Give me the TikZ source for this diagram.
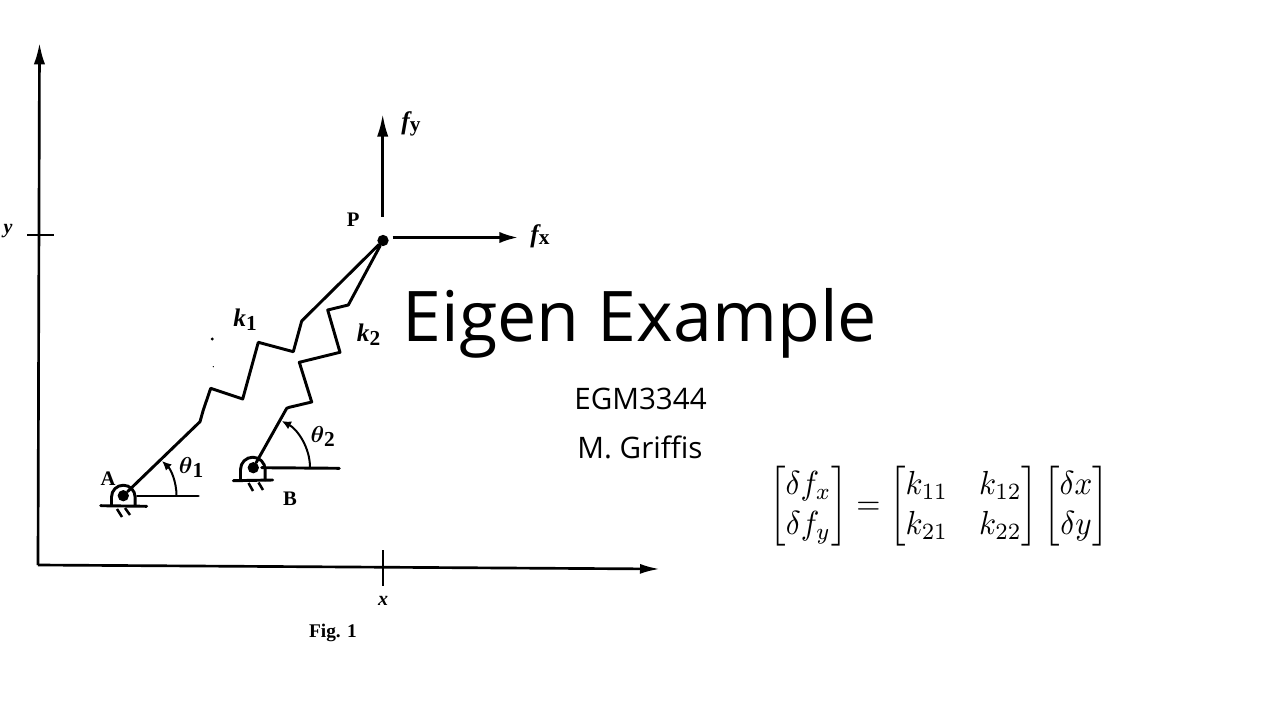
\documentclass[tikz,border=0pt]{standalone}
\usepackage{amsmath}
\usepackage{fontspec}
\setmainfont{Open Sans}
\newfontfamily\figfont{Liberation Serif}
\usetikzlibrary{arrows.meta}
\newcommand{\subfig}[2]{\raisebox{#1}{\upshape\fontsize{16}{16}\selectfont #2}}
\tikzset{
  x=0.75pt,y=-0.75pt,
  ink/.style={draw=black,line width=2.2pt,line join=round,line cap=round},
  thin ink/.style={draw=black,line width=1.5pt},
  hatch ink/.style={draw=black,line width=1.9pt},
  axis line/.style={draw=black,line width=2pt,line join=round},
  bigtip/.style={-{Latex[length=16pt,width=8.5pt]}},
  sidetip/.style={-{Latex[length=17pt,width=8.5pt]}},
  shorttip/.style={-{Latex[length=14pt,width=8.5pt]}},
  arc tip/.style={{Latex[length=7pt,width=6.5pt]}-},
  figlabel/.style={inner sep=0pt,font=\figfont\bfseries\fontsize{15.5}{16}\selectfont},
  mathlabel/.style={inner sep=0pt,font=\figfont\bfseries\itshape\fontsize{19}{19}\selectfont},
  pivot/.style={circle,fill=black,inner sep=0pt,minimum size=8.5pt}
}
\begin{document}
\begin{tikzpicture}
\useasboundingbox[fill=white] (0,0) rectangle (1280,720);
% axes
\coordinate (O) at (38,565);
\coordinate (Ytip) at (39.5,43);
\coordinate (Xtip) at (660,569);
\draw[axis line,bigtip] (O) -- (Ytip);
\draw[axis line,-{Latex[length=15pt,width=7.5pt]}] (O) -- (Xtip);
\coordinate (yl) at (27,235); \coordinate (yr) at (54,235);
\draw[thin ink] (yl) -- (yr);
\coordinate (xt) at (383,550); \coordinate (xb) at (383,586);
\draw[thin ink] (xt) -- (xb);
\node[mathlabel] (ylab) at (8,231) {\fontsize{15}{15}\selectfont y};
\node[mathlabel] (xlab) at (383,601) {\fontsize{15}{15}\selectfont x};
\node[figlabel,font=\figfont\bfseries\fontsize{14.5}{15}\selectfont] (figcap) at (333,633) {Fig. 1};
% P and forces
\node[pivot] (P) at (383,240.5) {};
\coordinate (fyS) at (382.7,217);
\coordinate (fyE) at (382.7,114);
\coordinate (fxS) at (392.5,237.5);
\coordinate (fxE) at (518,237.5);
\draw[axis line,sidetip] (fyS) -- (fyE);
\draw[axis line,shorttip] (fxS) -- (fxE);
\node[figlabel] (Plab) at (353.3,219.3) {P};
\node[mathlabel] (fy) at (411,124) {f\subfig{-2pt}{y}};
\node[mathlabel] (fx) at (540,236) {f\subfig{-2pt}{x}};
% pivot A
\node[pivot] (A) at (123.3,495.7) {};
\draw[ink] (111.5,505) -- (111.5,497) arc (180:360:11.8) -- (135.1,505);
\coordinate (Ag1) at (100.7,505.7); \coordinate (Ag2) at (146.7,506.3);
\draw[ink] (Ag1) -- (Ag2);
\draw[hatch ink] (117,509) -- (122,517);
\draw[hatch ink] (125,508) -- (130,515);
\coordinate (Ah1) at (137.3,496); \coordinate (Ah2) at (198.3,496);
\draw[ink] (Ah1) -- (Ah2);
% pivot B
\node[pivot] (B) at (253.3,467.7) {};
\draw[ink] (240.5,480) -- (240.5,469.5) arc (180:360:12.3) -- (265.1,480);
\coordinate (Bg1) at (233.3,480.7); \coordinate (Bg2) at (272.7,480);
\draw[ink] (Bg1) -- (Bg2);
\draw[hatch ink] (248.5,483) -- (253,491);
\draw[hatch ink] (258.5,482.5) -- (263,490);
\coordinate (Bh1) at (261.7,467.7); \coordinate (Bh2) at (339.3,468.3);
\draw[ink] (Bh1) -- (Bh2);
% spring 1
\draw[ink] (A) -- (200,421.7) -- (203.3,410) -- (210.7,388.3) -- (242.7,399) -- (258.3,342.3) -- (293.3,351.7) -- (301.7,321) -- (P);
% spring 2
\draw[ink] (B) -- (286.7,408.3) -- (289.3,407.3) -- (311.7,402) -- (299.3,362.3) -- (340,352.3) -- (327.7,310) -- (348.3,305) -- (P);
% angle arcs
\coordinate (a1e) at (176.5,495.7);
\coordinate (a2e) at (310,467.5);
\coordinate (a1s) at (162,461);
\coordinate (a2s) at (281.7,421);
\draw[thin ink,arc tip] (a1s) .. controls (171,469.5) and (176.5,482) .. (a1e);
\draw[thin ink,arc tip] (a2s) .. controls (297,429) and (310,447) .. (a2e);
% labels
\node[figlabel] (Alab) at (108,479) {A};
\node[figlabel] (Blab) at (290,498.3) {B};
\node[mathlabel] (t1) at (191,467) {$\boldsymbol{\theta}$\subfig{-3pt}{1}};
\node[mathlabel] (t2) at (322.7,436) {$\boldsymbol{\theta}$\subfig{-3pt}{2}};
\node[mathlabel] (k1) at (245,320) {k\subfig{-3pt}{1}};
\node[mathlabel] (k2) at (368.5,335) {k\subfig{-3pt}{2}};
% specks
\fill (212.3,339) circle (1.2pt);
\fill (213.3,366.7) circle (0.5pt);
% title
\node[inner sep=0pt,font=\fontsize{52.4}{58}\selectfont] (title) at (640,323) {Eigen Example};
\node[inner sep=0pt,font=\fontsize{22.2}{26}\selectfont] (sub1) at (640.5,399) {EGM3344};
\node[inner sep=0pt,font=\fontsize{22.2}{26}\selectfont] (sub2) at (640,447) {M. Griffis};
\node[inner sep=0pt] (eq) at (939,506.5) {\scalebox{2.33}[2.5]{$\begin{bmatrix}\delta f_x\\ \delta f_y\end{bmatrix}=\begin{bmatrix}k_{11} & k_{12}\\ k_{21} & k_{22}\end{bmatrix}\begin{bmatrix}\delta x\\ \delta y\end{bmatrix}$}};
\end{tikzpicture}
\end{document}
